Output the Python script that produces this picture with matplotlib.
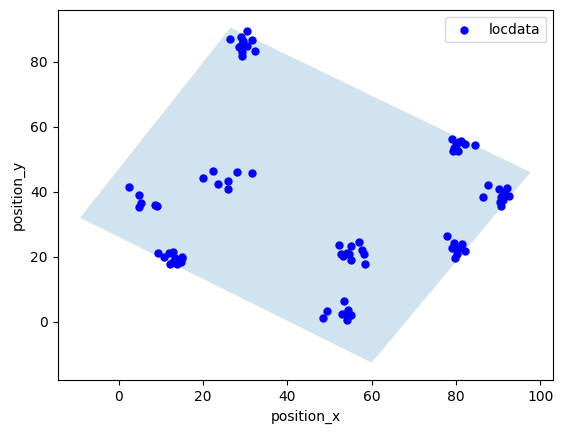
import matplotlib
matplotlib.use("Agg")
import matplotlib.pyplot as plt
from matplotlib.patches import Polygon

# localization data
position_x = [2.5, 4.9, 5.3, 4.7, 8.6, 9.0,
              9.2, 11.8, 12.8, 10.8, 12.2, 13.8, 15.0, 14.8, 13.3, 12.8, 15.1,
              30.4, 26.5, 28.9, 31.5, 28.4, 29.2, 30.5, 32.2, 29.3, 29.2, 29.5,
              20.0, 22.4, 23.5, 26.0, 25.8, 28.1, 31.5,
              52.3, 55.0, 57.1, 57.8, 58.1, 58.4, 53.3, 54.1, 55.0, 54.7, 52.7,
              53.5, 49.5, 48.5, 53.0, 54.5, 55.1, 54.1, 54.3,
              79.1, 81.3, 82.1, 84.4, 79.5, 79.2, 80.6, 80.7, 80.0,
              87.7, 90.1, 92.0, 86.3, 92.5, 90.8, 90.4, 90.6, 91.5, 91.1,
              77.9, 79.5, 81.4, 79.0, 82.1, 80.6, 80.3, 79.8]
position_y = [41.5, 39.0, 36.5, 35.2, 35.8, 35.7,
              21.1, 21.3, 21.6, 19.8, 17.7, 17.7, 19.6, 18.5, 19.5, 18.5, 20.0,
              89.5, 87.1, 87.5, 86.8, 84.4, 85.4, 84.7, 83.2, 81.6, 82.9, 86.5,
              44.3, 46.4, 42.4, 43.3, 40.8, 46.1, 45.8,
              23.7, 23.3, 24.5, 22.1, 20.7, 17.7, 20.3, 21.3, 19.0, 20.8, 20.8,
              6.4, 3.3, 1.1, 2.4, 3.6, 2.1, 0.6, 2.0,
              56.3, 55.7, 54.7, 54.3, 53.6, 52.4, 52.4, 55.2, 54.5,
              42.2, 40.8, 41.3, 38.4, 38.6, 38.3, 36.9, 35.5, 39.8, 37.5,
              26.4, 24.1, 23.9, 22.7, 21.8, 22.4, 20.8, 19.6]

# oriented bounding box corners
hull_x = [-9.2, 26.5, 97.7, 60.0]
hull_y = [32.0, 90.5, 46.0, -12.6]

fig = plt.figure(figsize=(5.63, 4.33), dpi=100)
ax = fig.add_axes([0.1025, 0.1217, 0.8803, 0.8545])

ax.add_patch(Polygon(list(zip(hull_x, hull_y)), closed=True,
                     facecolor='#1f77b4', alpha=0.2, edgecolor='none'))
ax.scatter(position_x, position_y, s=25, color='blue', label='locdata')

ax.set_xlim(-14.5, 103.1)
ax.set_ylim(-18.0, 95.8)
ax.set_xlabel("position_x")
ax.set_ylabel("position_y")
ax.legend(loc='upper right')

fig.savefig("out.png", dpi=100)
